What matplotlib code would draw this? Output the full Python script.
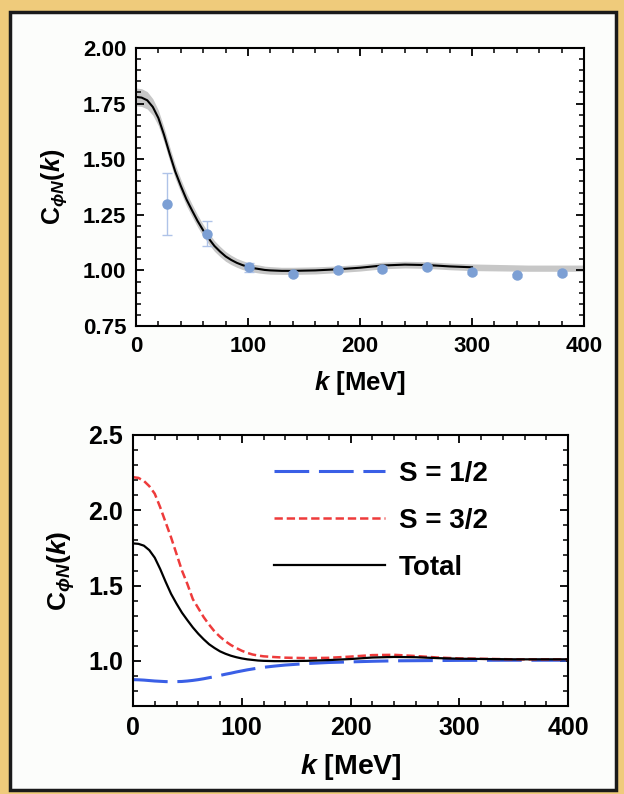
import numpy as np
import matplotlib
matplotlib.use('Agg')
import matplotlib.pyplot as plt
from matplotlib.patches import Rectangle
from matplotlib.ticker import MultipleLocator, FormatStrFormatter

# ── correlation-function curves C_phiN(k) ─────────────────────────────────────
k_curve = [0, 5, 10, 15, 20, 25, 30, 35, 40, 45, 50, 55, 60, 65, 70, 75, 80,
           85, 90, 95, 100, 105, 110, 115, 120,
           130, 140, 160, 180, 200, 220, 240, 260, 280, 300, 350, 400]

c_total = [1.780, 1.777, 1.765, 1.735, 1.685, 1.610, 1.525, 1.445, 1.380,
           1.320, 1.270, 1.222, 1.180, 1.143, 1.110, 1.085, 1.063, 1.047,
           1.034, 1.024, 1.016, 1.010, 1.006, 1.002, 1.000,
           0.998, 0.998, 1.000, 1.005, 1.012, 1.022, 1.026, 1.024, 1.018,
           1.014, 1.010, 1.010]

c_s32 = [2.220, 2.215, 2.195, 2.160, 2.110, 2.020, 1.920, 1.820, 1.710,
         1.600, 1.510, 1.410, 1.350, 1.290, 1.240, 1.195, 1.160, 1.130,
         1.105, 1.085, 1.067, 1.053, 1.042, 1.035, 1.030,
         1.025, 1.021, 1.018, 1.020, 1.028, 1.038, 1.040, 1.032, 1.022,
         1.016, 1.010, 1.010]

c_s12 = [0.875, 0.874, 0.872, 0.869, 0.866, 0.864, 0.862, 0.861, 0.862,
         0.863, 0.866, 0.870, 0.875, 0.881, 0.888, 0.895, 0.903, 0.911,
         0.918, 0.926, 0.933, 0.940, 0.946, 0.952, 0.957,
         0.965, 0.972, 0.982, 0.989, 0.993, 0.997, 1.000, 1.001, 1.002,
         1.003, 1.004, 1.004]

# half-width of the uncertainty band on the total
band_half = [0.040, 0.040, 0.039, 0.037, 0.035, 0.033, 0.032, 0.031, 0.030,
             0.029, 0.028, 0.027, 0.026, 0.025, 0.024, 0.023, 0.022, 0.021,
             0.020, 0.020, 0.019, 0.018, 0.018, 0.017, 0.017,
             0.016, 0.016, 0.016, 0.015, 0.015, 0.015, 0.015, 0.015, 0.015,
             0.015, 0.014, 0.014]

# lattice data points
k_data = [28, 63, 101, 140, 180, 220, 260, 300, 340, 380]
c_data = [1.30, 1.165, 1.015, 0.985, 1.000, 1.008, 1.015, 0.993, 0.978, 0.988]
c_err = [0.14, 0.055, 0.02, 0.008, 0.008, 0.012, 0.008, 0.008, 0.006, 0.008]

legend_labels = ['S = 1/2', 'S = 3/2', 'Total']

# ── style ─────────────────────────────────────────────────────────────────────
plt.rcParams['font.family'] = ['Liberation Sans', 'DejaVu Sans']
plt.rcParams['font.weight'] = 'bold'
plt.rcParams['axes.labelweight'] = 'bold'
plt.rcParams['mathtext.fontset'] = 'custom'
plt.rcParams['mathtext.rm'] = 'Liberation Sans:bold'
plt.rcParams['mathtext.it'] = 'Liberation Sans:italic:bold'
plt.rcParams['mathtext.bf'] = 'Liberation Sans:bold'
plt.rcParams['lines.scale_dashes'] = False

GOLD = '#EFCB7B'
ylabel = r'$\mathrm{C}_{\phi N}(k)$'
xlabel = r'$k$ [MeV]'


def style_axes(ax, fs, ymajor, yminor):
    for sp in ax.spines.values():
        sp.set_linewidth(1.5)
    ax.xaxis.set_major_locator(MultipleLocator(100))
    ax.xaxis.set_minor_locator(MultipleLocator(20))
    ax.yaxis.set_major_locator(MultipleLocator(ymajor))
    ax.yaxis.set_minor_locator(MultipleLocator(yminor))
    ax.tick_params(which='both', direction='in', top=True, right=True,
                   labelsize=fs, pad=7)
    ax.tick_params(which='major', length=6, width=1.3)
    ax.tick_params(which='minor', length=3.5, width=1.1)


k = np.array(k_curve)
tot = np.array(c_total)
half = np.array(band_half)

fig = plt.figure(figsize=(6.24, 7.94), dpi=100, facecolor=GOLD)
fig.patches.append(Rectangle((10 / 624, 4 / 794), 606 / 624, 778 / 794,
                             transform=fig.transFigure, facecolor='#FCFDFB',
                             edgecolor='#1a1a1a', linewidth=2.5, zorder=-10))

# TOP PANEL: total with band and data points
ax1 = fig.add_axes([136 / 624, 1 - 326 / 794, 448 / 624, 278 / 794])
ax1.fill_between(k, tot - half, tot + half, color='#BDBDBD', alpha=0.85,
                 linewidth=0)
m = k <= 300
ax1.plot(k[m], tot[m], color='black', lw=1.5)
ax1.errorbar(k_data, c_data, yerr=c_err, fmt='o', ms=6.5, color='#7C9FD4',
             ecolor='#AFC3E8', elinewidth=1.0, capsize=3.5, capthick=1.0)
ax1.set_xlim(0, 400)
ax1.set_ylim(0.75, 2.0)
style_axes(ax1, 16, 0.25, 0.05)
ax1.yaxis.set_major_formatter(FormatStrFormatter('%.2f'))
ax1.set_xlabel(xlabel, fontsize=18.5, labelpad=9)
ax1.set_ylabel(ylabel, fontsize=18, labelpad=10)

# BOTTOM PANEL: spin decomposition
ax2 = fig.add_axes([133 / 624, 1 - 706 / 794, 435 / 624, 271 / 794])
ax2.plot(k, c_s12, color='#3A5FE6', lw=2.2, dashes=(25, 7),
         label=legend_labels[0])
ax2.plot(k, c_s32, color='#EE3B3B', lw=1.8, dashes=(6, 2.8),
         label=legend_labels[1])
ax2.plot(k, tot, color='black', lw=1.6, label=legend_labels[2])
ax2.set_xlim(0, 400)
ax2.set_ylim(0.7, 2.5)
style_axes(ax2, 18, 0.5, 0.1)
ax2.yaxis.set_major_formatter(FormatStrFormatter('%.1f'))
ax2.set_xlabel(xlabel, fontsize=20.5, labelpad=9)
ax2.set_ylabel(ylabel, fontsize=19, labelpad=8)
ax2.legend(loc='upper left', bbox_to_anchor=(0.324, 0.905), frameon=False,
           fontsize=20, handlelength=4.0, handletextpad=0.5,
           labelspacing=0.76, borderpad=0, borderaxespad=0)

fig.savefig('out.png', dpi=100, facecolor=GOLD)
